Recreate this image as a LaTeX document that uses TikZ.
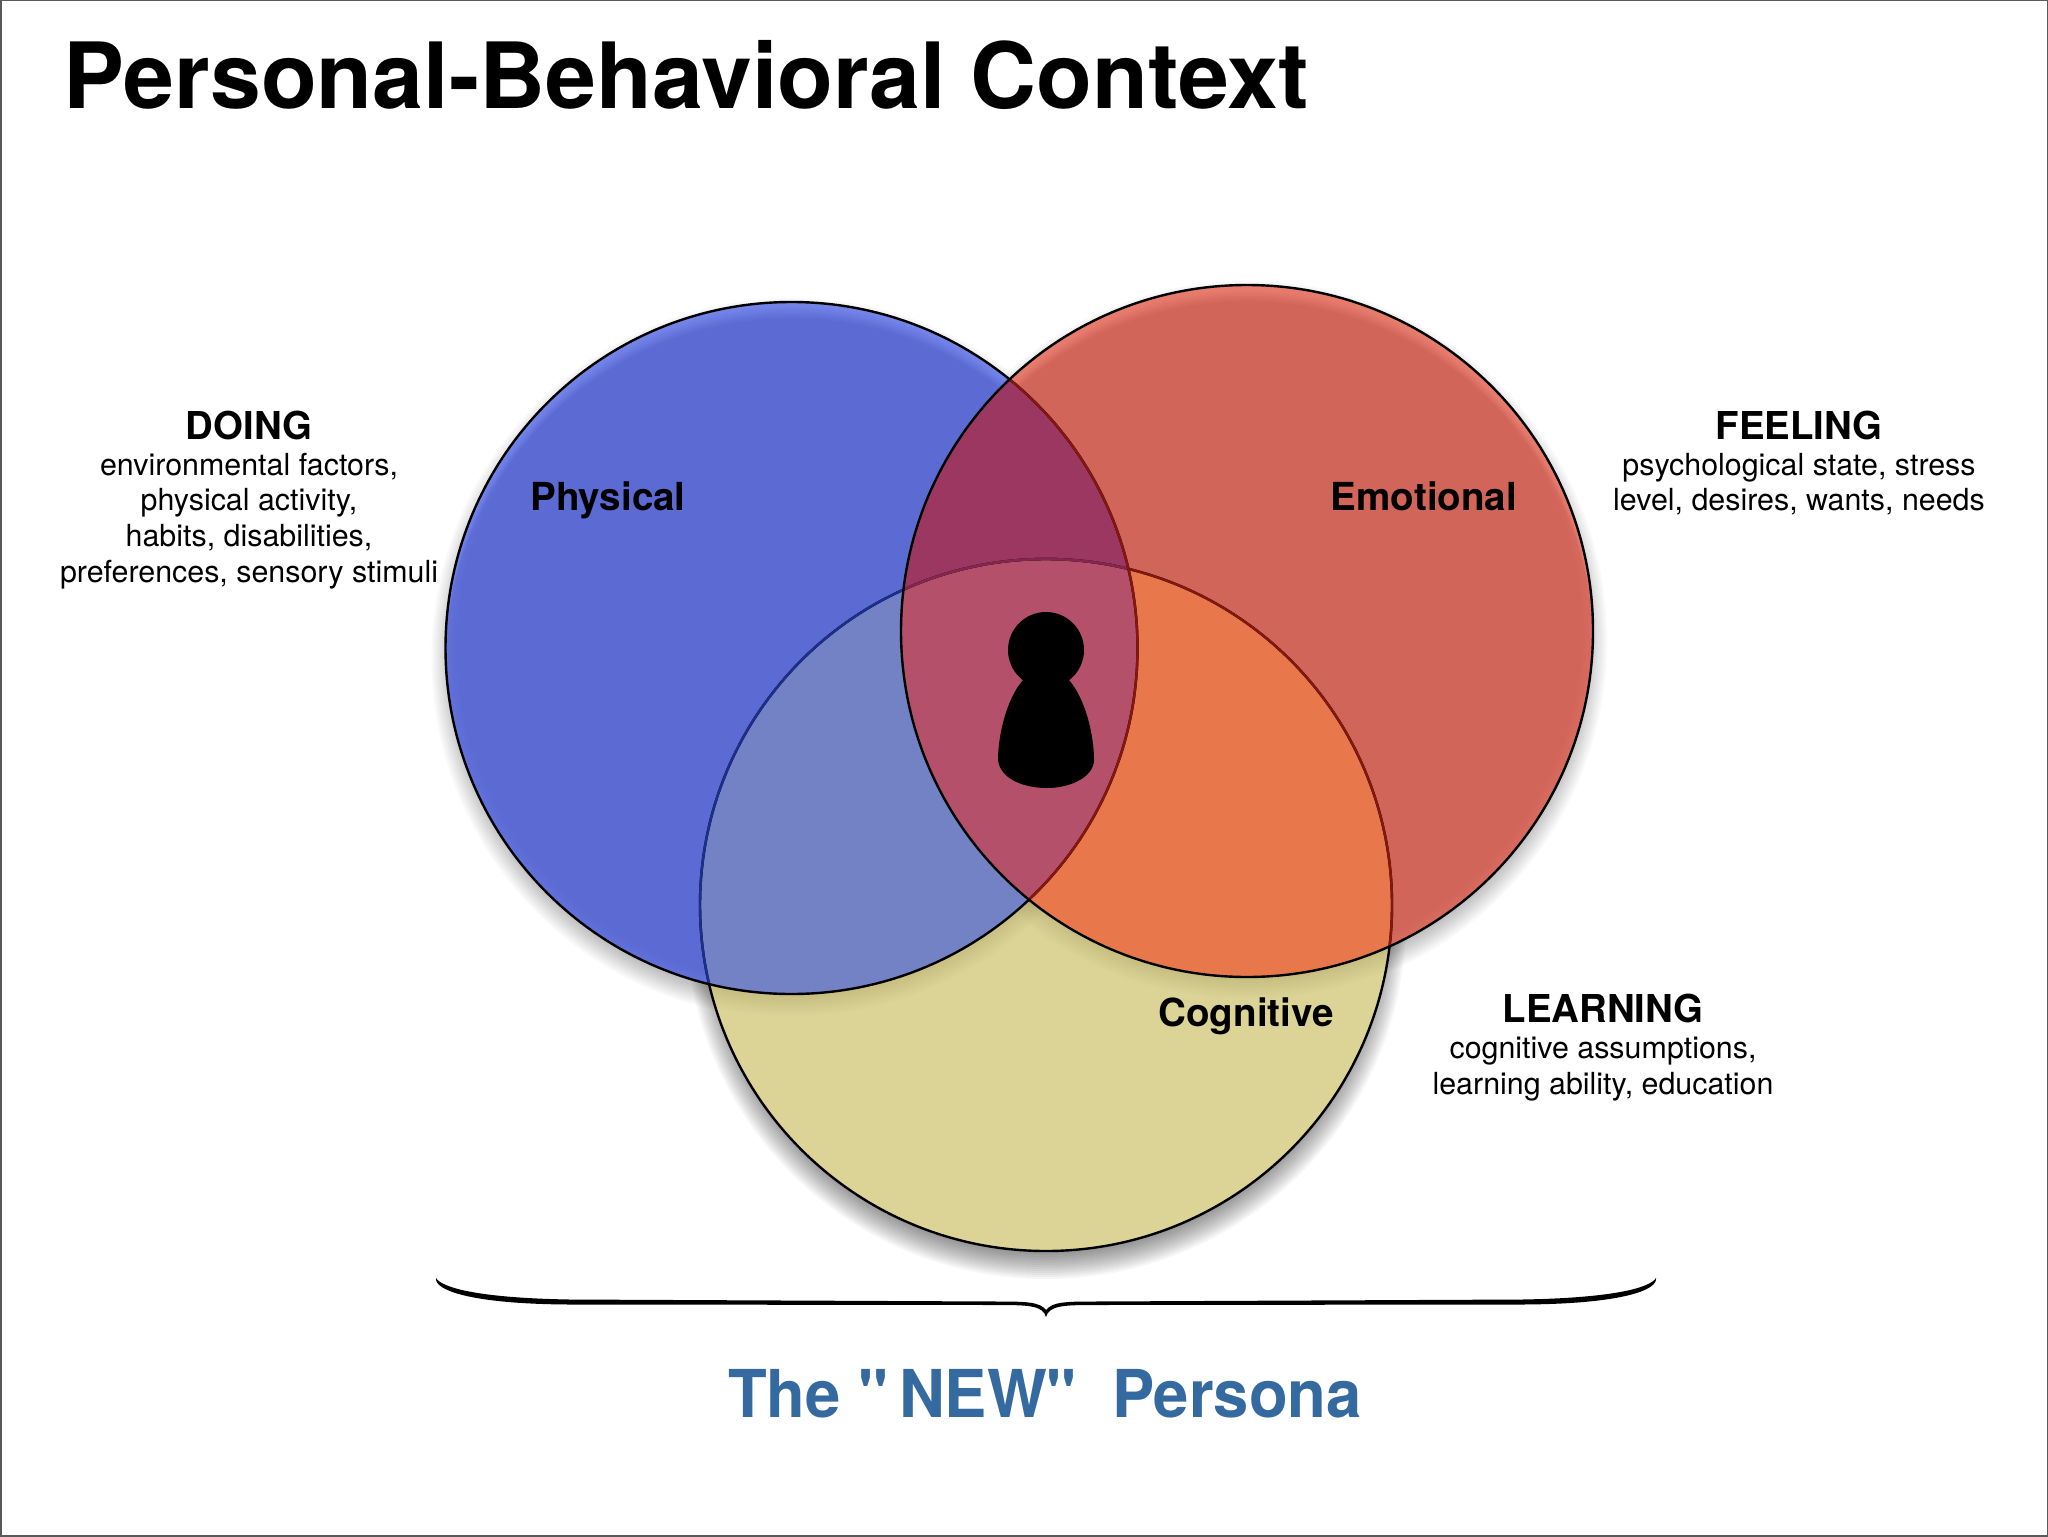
\documentclass[tikz,border=0pt]{standalone}
\usepackage{graphicx}
\usepackage{fontspec}
\setmainfont{TeX Gyre Heros}
\newfontfamily\plainfam{TeX Gyre Heros}
\definecolor{phyc}{HTML}{5B6BD3}
\definecolor{emoc}{HTML}{D2655A}
\definecolor{cogc}{HTML}{DCD496}
\definecolor{pecol}{HTML}{9B3761}
\definecolor{pccol}{HTML}{7381C5}
\definecolor{eccol}{HTML}{E8784C}
\definecolor{allcol}{HTML}{B4506A}
\definecolor{dkblue}{HTML}{1B2F8F}
\definecolor{dkred}{HTML}{85170F}
\definecolor{dkpurp}{HTML}{86254D}
\definecolor{persona}{HTML}{356AA0}
\definecolor{frame}{HTML}{5A5A5A}
\definecolor{phyrim}{HTML}{8C9DFF}
\definecolor{emorim}{HTML}{FF9585}
\tikzset{
  headtxt/.style={anchor=base,inner sep=0pt,font=\fontsize{19.2}{19.2}\selectfont\bfseries},
  bodytxt/.style={anchor=base,inner sep=0pt,font=\fontsize{15.2}{15.2}\selectfont},
  circtxt/.style={anchor=base,inner sep=0pt,font=\fontsize{19.3}{19.3}\selectfont\bfseries},
  ring/.style={line width=1.2pt}
}
\newcommand{\phyc}{(791.5,648) circle[radius=173pt]}
\newcommand{\emoc}{(1247,631) circle[radius=173pt]}
\newcommand{\cogc}{(1046,905) circle[radius=173pt]}
\newcommand{\softshadow}[4]{% cx cy dy opacity
  \foreach \k in {0,1,...,13}{
    \fill[black,opacity=#4] (#1,#2+#3) circle[radius={173pt+(\k-6)*1pt}];
  }
}
\newcommand{\rimglow}[3]{% cx cy colour
  \begin{scope}
    \clip (#1,#2) circle[radius=173pt];
    \foreach \k in {1,...,9}{
      \fill[#3,opacity=0.08,even odd rule] (#1-400,#2-400) rectangle (#1+400,#2+400) (#1,#2+\k*1.8) circle[radius=173pt];
    }
    \foreach \k in {1,...,6}{
      \fill[#3,opacity=0.04,even odd rule] (#1-400,#2-400) rectangle (#1+400,#2+400) (#1,#2) circle[radius={173pt-\k*0.9pt}];
    }
  \end{scope}
}
\begin{document}
\begin{tikzpicture}[x=0.5pt,y=-0.5pt]
\useasboundingbox (0,0) rectangle (2048,1536);
\fill[white] (0,0) rectangle (2048,1536);
\draw[frame,line width=1pt] (0.5,0.5) rectangle (2047.5,1535.5);
% shadows on the white ground, then fills
\softshadow{791.5}{648}{10}{0.024}
\softshadow{1247}{631}{10}{0.024}
\softshadow{1046}{905}{14}{0.036}
\fill[cogc] \cogc;
\begin{scope}\clip \cogc;
  \softshadow{791.5}{648}{8}{0.007}
  \softshadow{1247}{631}{8}{0.007}
\end{scope}
\fill[phyc] \phyc;
\fill[emoc] \emoc;
\rimglow{791.5}{648}{phyrim}
\rimglow{1247}{631}{emorim}
% overlaps
\begin{scope}\clip \phyc; \fill[pecol] \emoc; \end{scope}
\begin{scope}\clip \phyc; \fill[pccol] \cogc; \end{scope}
\begin{scope}\clip \emoc; \fill[eccol] \cogc; \end{scope}
\begin{scope}\clip \phyc; \clip \emoc; \fill[allcol] \cogc; \end{scope}
% outlines
\draw[ring] \cogc;
\begin{scope}\clip \phyc; \draw[ring,dkblue] \cogc; \end{scope}
\begin{scope}\clip \emoc; \draw[ring,dkred] \cogc; \end{scope}
\begin{scope}\clip \phyc; \clip \emoc; \draw[ring,dkpurp] \cogc; \end{scope}
\draw[ring] \phyc;
\begin{scope}\clip \emoc; \draw[ring,dkred] \phyc; \end{scope}
\draw[ring] \emoc;
% person
\fill[black] (1046,650) circle[radius=19pt];
\fill[black] (1046,668) .. controls (1015,668) and (998,725) .. (998,760)
  .. controls (1000,778) and (1022,788) .. (1047,788)
  .. controls (1072,788) and (1094,776) .. (1094,760)
  .. controls (1094,725) and (1077,668) .. (1046,668) -- cycle;
% brace
\fill[black] (436,1278) .. controls (434,1290) and (470,1304) .. (570,1304.5)
  -- (1000,1305) .. controls (1030,1305) and (1043,1306) .. (1046,1317)
  .. controls (1049,1306) and (1062,1305) .. (1092,1305)
  -- (1522,1304.5) .. controls (1622,1304) and (1658,1290) .. (1656,1278)
  .. controls (1650,1288) and (1612,1298) .. (1522,1299.5)
  -- (1092,1301.5) .. controls (1066,1301.5) and (1052,1302) .. (1046,1310)
  .. controls (1040,1302) and (1026,1301.5) .. (1000,1301.5)
  -- (570,1299.5) .. controls (480,1298) and (442,1288) .. (436,1278) -- cycle;
% texts
\node[anchor=base west,inner sep=0pt,font=\fontsize{45.7}{45.7}\selectfont\bfseries] (title) at (63,109) {Personal-Behavioral Context};
\node[headtxt] (doing) at (249,439) {DOING};
\node[bodytxt] (d1) at (249,475) {environmental factors,};
\node[bodytxt] (d2) at (249,510) {physical activity,};
\node[bodytxt] (d3) at (249,546) {habits, disabilities,};
\node[bodytxt] (d4) at (249,582) {preferences, sensory stimuli};
\node[headtxt] (feeling) at (1799,439) {FEELING};
\node[bodytxt] (f1) at (1799,475) {psychological state, stress};
\node[bodytxt] (f2) at (1799,510) {level, desires, wants, needs};
\node[headtxt] (learning) at (1603,1022.5) {LEARNING};
\node[bodytxt] (l1) at (1603,1058) {cognitive assumptions,};
\node[bodytxt] (l2) at (1603,1094) {learning ability, education};
\node[circtxt] (phys) at (608,510) {Physical};
\node[circtxt] (emot) at (1424,510) {Emotional};
\node[circtxt] (cogn) at (1246,1026) {Cognitive};
\node[anchor=base,inner sep=0pt,text=persona,font=\fontsize{33}{33}\selectfont\bfseries\plainfam] (newp) at (1045,1417) {\scalebox{0.96}[1]{The "\,NEW"\ \ Persona}};
\end{tikzpicture}
\end{document}
